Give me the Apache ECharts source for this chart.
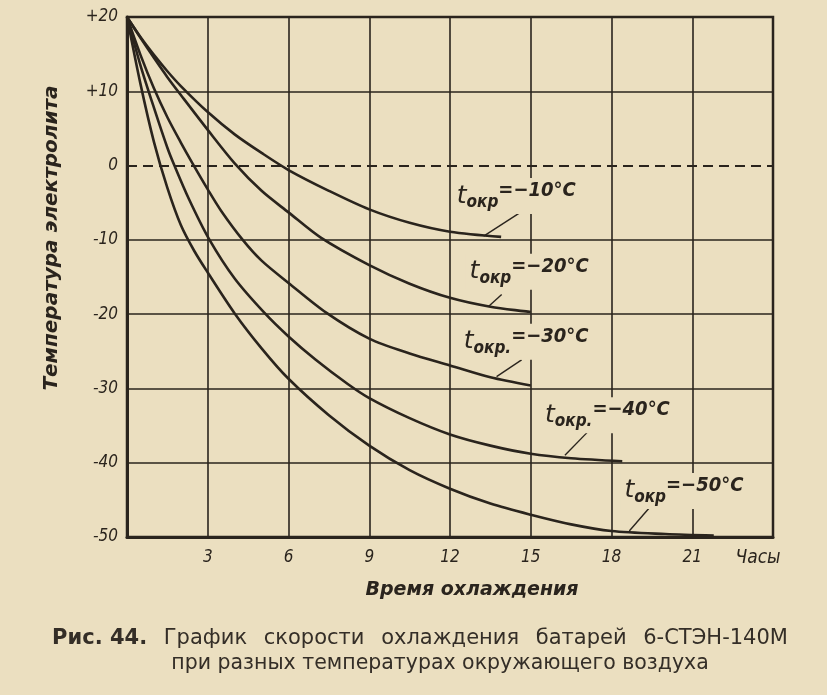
<!DOCTYPE html>
<html><head><meta charset="utf-8">
<script src="https://cdn.jsdelivr.net/npm/echarts@6/dist/echarts.min.js"></script>
<style>html,body{margin:0;padding:0;background:#ebdfc0}#c{width:827px;height:695px}</style>
</head><body><div id="c"></div>
<script>
// ---- data (hours, electrolyte temperature °C) ----
const xTicks = [0, 3, 6, 9, 12, 15, 18, 21, 24];
const yTicks = [-50, -40, -30, -20, -10, 0, 10, 20];
const ambientTemps = [-10, -20, -30, -40, -50];
const curveM10 = [[0,20],[0.5,17.3],[1,14.9],[1.5,12.7],[2,10.7],[3,7.2],[4,4.2],[5,1.7],[6,-0.6],[7.5,-3.4],[9,-5.9],[10.5,-7.7],[12,-8.9],[13.9,-9.6]];
const curveM20 = [[0,20],[0.5,17.2],[1,14.5],[1.5,11.9],[2,9.5],[3,4.8],[4,0.3],[5,-3.4],[6,-6.3],[7.2,-9.7],[9,-13.4],[10.5,-15.9],[12,-17.8],[13.5,-19.0],[15,-19.7]];
const curveM30 = [[0,20],[0.5,14.9],[1,10.4],[1.5,6.5],[2,3.1],[2.45,0.2],[3,-3.2],[3.5,-6.1],[4.3,-10],[5,-12.8],[6,-15.8],[7.4,-19.8],[9,-23.3],[10.5,-25.3],[12,-26.9],[13.5,-28.5],[15,-29.6]];
const curveM40 = [[0,20],[0.5,13.5],[1,7.8],[1.5,2.4],[1.75,0.1],[2.3,-4.5],[3.05,-9.9],[4,-15.2],[5.1,-19.8],[6,-23],[7,-26.1],[8.2,-29.4],[9,-31.3],[10.5,-34],[12,-36.2],[13.5,-37.7],[15,-38.8],[16.5,-39.4],[18.4,-39.8]];
const curveM50 = [[0,20],[0.5,11],[1,3.2],[1.5,-3],[2,-8],[2.5,-11.5],[3,-14.4],[4,-19.9],[5,-24.6],[6,-28.7],[7.5,-33.6],[9,-37.7],[10.5,-41],[12,-43.5],[13.5,-45.5],[15,-47],[16.5,-48.3],[18,-49.2],[20,-49.6],[21.8,-49.8]];
const curves = [curveM10, curveM20, curveM30, curveM40, curveM50];
const subLabels = ['окр', 'окр', 'окр.', 'окр.', 'окр'];
const captionLine1 = ['Рис.', '44.', 'График', 'скорости', 'охлаждения', 'батарей', '6-СТЭН-140М'];
const captionLine2 = 'при разных температурах окружающего воздуха';
// ---- annotation anchors (data coordinates) ----
const labelAnchors = [[12.1,-4.1],[12.58,-14.3],[12.36,-23.7],[15.38,-33.6],[18.33,-43.8]];
const leaderLines = [
  [[14.66,-6.2],[13.25,-9.5]],
  [[13.92,-17.35],[13.43,-18.96]],
  [[14.66,-26.15],[13.73,-28.4]],
  [[17.09,-35.95],[16.27,-39.0]],
  [[19.4,-46.1],[18.66,-49.2]]
];

const ink = '#2a241d';
const paper = '#ebdfc0';
const fnt = 'DejaVu Sans Condensed';
const fntW = 'DejaVu Sans';

const series = [];
curves.forEach((d, i) => {
  series.push({
    type: 'line', data: d, smooth: 0.3, showSymbol: false, silent: true,
    lineStyle: { color: ink, width: 2.6 }, z: 3,
    markLine: {
      silent: true, symbol: 'none', label: { show: false },
      lineStyle: { color: ink, width: 1.4, type: 'solid' },
      data: [[{ coord: leaderLines[i][0] }, { coord: leaderLines[i][1] }]]
    }
  });
});
// horizontal grid lines (solid) except zero, and the dashed zero line
series.push({
  type: 'line', data: [], silent: true,
  markLine: {
    silent: true, symbol: 'none', label: { show: false },
    lineStyle: { color: ink, width: 1.6, type: 'solid' },
    data: yTicks.filter(v => v !== 0 && v !== yTicks[0] && v !== yTicks[yTicks.length - 1]).map(v => ({ yAxis: v }))
  }
});
series.push({
  type: 'line', data: [], silent: true,
  markLine: {
    silent: true, symbol: 'none', label: { show: false },
    lineStyle: { color: ink, width: 2, type: [10, 6] },
    data: [{ yAxis: 0 }]
  }
});
// curve labels
series.push({
  type: 'scatter', symbolSize: 0, silent: true, z: 5,
  itemStyle: { opacity: 1 },
  data: labelAnchors.map((p, i) => ({ value: p, idx: i })),
  label: {
    show: true, position: 'right', distance: 0, opacity: 1,
    backgroundColor: paper, padding: [3, 4],
    formatter: (p) => '{t|t}{s|' + subLabels[p.data.idx] + '}{v|=' + String(ambientTemps[p.data.idx]).replace('-', '−') + '°C}',
    rich: {
      t: { fontFamily: fntW, fontStyle: 'italic', fontSize: 25, color: ink, lineHeight: 30, verticalAlign: 'middle' },
      s: { fontFamily: fnt, fontStyle: 'italic', fontWeight: 'bold', fontSize: 17, color: ink, lineHeight: 17, verticalAlign: 'bottom' },
      v: { fontFamily: fnt, fontStyle: 'italic', fontWeight: 'bold', fontSize: 20, color: ink, lineHeight: 22, verticalAlign: 'top' }
    }
  }
});

const capStyle = { fontFamily: fntW, fontSize: 21, fontWeight: 'normal', color: '#342e27' };
const cap2Style = Object.assign({}, capStyle, { fontSize: 20.5 });
const chart = echarts.init(document.getElementById('c'));
chart.setOption({
  animation: false,
  backgroundColor: paper,
  title: [
    { text: '{b|' + captionLine1.slice(0, 2).join(' ') + '}{sp| }' + captionLine1.slice(2).join('{sp| }'),
      left: 415, top: 623, textAlign: 'center',
      textStyle: Object.assign({}, capStyle, {
        rich: { b: Object.assign({}, capStyle, { fontWeight: 'bold' }), sp: Object.assign({}, capStyle, { padding: [0, 5, 0, 5] }) } }) },
    { text: captionLine2, left: 435, top: 648, textAlign: 'center', textStyle: cap2Style }
  ],
  grid: { left: 127, top: 17, right: 54, bottom: 158, show: true, borderColor: ink, borderWidth: 2.5, backgroundColor: 'transparent' },
  xAxis: {
    type: 'value', min: 0, max: 24, interval: 3,
    name: 'Время охлаждения', nameLocation: 'middle', nameGap: 44,
    nameTextStyle: { fontFamily: fntW, fontStyle: 'italic', fontWeight: 'bold', fontSize: 19, color: ink, padding: [0, 0, 0, 44] },
    axisLine: { show: true, onZero: false, lineStyle: { color: ink, width: 3 } },
    axisTick: { show: false },
    splitLine: { show: true, lineStyle: { color: ink, width: 1.6 } },
    axisLabel: {
      margin: 12, color: ink, fontFamily: fnt, fontStyle: 'italic', fontSize: 17,
      formatter: (v) => v === 0 ? '' : (v === 24 ? '{u|Часы}' : String(v)),
      rich: { u: { fontFamily: fnt, fontStyle: 'italic', fontSize: 19, color: ink, padding: [0, 30, 0, 0] } }
    }
  },
  yAxis: {
    type: 'value', min: -50, max: 20, interval: 10,
    axisLine: { show: true, onZero: false, lineStyle: { color: ink, width: 3 } },
    axisTick: { show: false },
    splitLine: { show: false },
    axisLabel: {
      margin: 9, color: ink, fontFamily: fnt, fontStyle: 'italic', fontSize: 17,
      formatter: (v) => v > 0 ? '+' + v : String(v)
    }
  },
  graphic: [{
    type: 'text', x: 52, y: 238, rotation: Math.PI / 2,
    style: { text: 'Температура электролита', fill: ink, font: 'italic bold 20px "DejaVu Sans"', align: 'center', verticalAlign: 'middle' }
  }],
  series: series
});
</script>
</body></html>
